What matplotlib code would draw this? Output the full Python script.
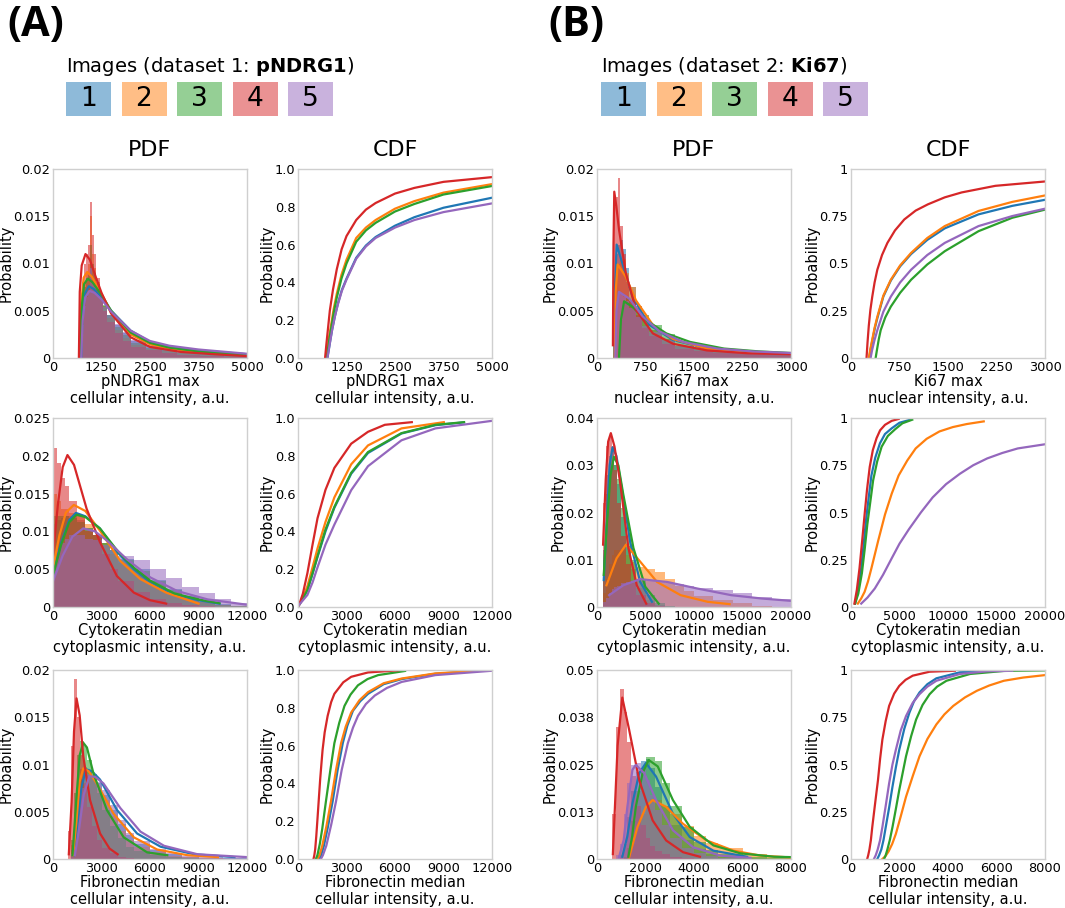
import matplotlib
matplotlib.use("Agg")
import matplotlib.pyplot as plt
from matplotlib.patches import Rectangle

# image colours, order: image 1..5
colors = ['#1f77b4', '#ff7f0e', '#2ca02c', '#d62728', '#9467bd']
image_ids = ['1', '2', '3', '4', '5']

# ---------------- dataset 1 (pNDRG1) ----------------
# row 1: pNDRG1 max cellular intensity
a1_edges = [650, 700, 750, 800, 850, 900, 950, 1000, 1050, 1100, 1200, 1300, 1400,
            1600, 1800, 2000, 2400, 2800, 3200, 3800, 4400, 5000]
a1_hist = [
    [0, 0.0005, 0.004, 0.006, 0.007, 0.0075, 0.010, 0.0085, 0.008, 0.0072, 0.0064, 0.0055, 0.0046, 0.0035, 0.0026, 0.0018, 0.0013, 0.0009, 0.0006, 0.0004, 0.0003],
    [0, 0.002, 0.006, 0.008, 0.009, 0.010, 0.015, 0.011, 0.0095, 0.008, 0.0068, 0.0055, 0.0042, 0.003, 0.0021, 0.0014, 0.001, 0.0007, 0.0005, 0.0003, 0.0002],
    [0, 0.001, 0.005, 0.0075, 0.0085, 0.009, 0.012, 0.010, 0.009, 0.0078, 0.0068, 0.0056, 0.0045, 0.0033, 0.0024, 0.0016, 0.0011, 0.0008, 0.0005, 0.0004, 0.0002],
    [0, 0.004, 0.008, 0.010, 0.011, 0.012, 0.0165, 0.013, 0.011, 0.0085, 0.0065, 0.005, 0.0038, 0.0026, 0.0018, 0.0012, 0.0008, 0.0005, 0.0003, 0.0002, 0.0001],
    [0, 0.0005, 0.0035, 0.0055, 0.0065, 0.007, 0.0095, 0.008, 0.0075, 0.0068, 0.0062, 0.0054, 0.0046, 0.0036, 0.0027, 0.0019, 0.0014, 0.001, 0.0007, 0.0005, 0.0003],
]
a1_pdf_x = [
    [726, 760, 820, 923, 1050, 1250, 1500, 2000, 2500, 3000, 3750, 5000],
    [684, 720, 790, 880, 1000, 1250, 1500, 2000, 2500, 3000, 3750, 5000],
    [692, 730, 800, 897, 1020, 1250, 1500, 2000, 2500, 3000, 3750, 5000],
    [667, 690, 740, 838, 950, 1100, 1250, 1500, 2000, 2500, 3300, 4150, 5000],
    [726, 765, 830, 940, 1070, 1250, 1500, 2000, 2500, 3000, 3750, 5000],
]
a1_pdf_y = [
    [0, 0.0045, 0.0068, 0.0076, 0.0073, 0.0064, 0.0050, 0.0029, 0.0017, 0.0012, 0.0008, 0.0004],
    [0, 0.0055, 0.0085, 0.0091, 0.0086, 0.0068, 0.0048, 0.0025, 0.00145, 0.001, 0.0006, 0.0003],
    [0, 0.005, 0.0078, 0.0084, 0.0080, 0.0067, 0.0050, 0.0027, 0.0016, 0.0011, 0.0007, 0.0003],
    [0, 0.007, 0.0098, 0.0110, 0.0104, 0.0086, 0.0069, 0.0047, 0.0022, 0.00117, 0.00064, 0.0004, 0.0002],
    [0, 0.004, 0.0064, 0.0071, 0.0069, 0.0062, 0.0049, 0.0029, 0.0018, 0.0013, 0.0009, 0.00045],
]
a1_cdf_x = [
    [758, 790, 830, 880, 950, 1030, 1130, 1250, 1500, 1750, 2000, 2500, 3000, 3750, 5000],
    [724, 760, 800, 850, 920, 1000, 1120, 1250, 1500, 1750, 2000, 2500, 3000, 3750, 5000],
    [741, 775, 815, 865, 930, 1000, 1120, 1250, 1500, 1750, 2000, 2500, 3000, 3750, 5000],
    [698, 730, 770, 820, 900, 1000, 1124, 1250, 1500, 1750, 2000, 2500, 3000, 3750, 5000],
    [758, 790, 830, 880, 950, 1030, 1130, 1250, 1500, 1750, 2000, 2500, 3000, 3750, 5000],
]
a1_cdf_y = [
    [0, 0.04, 0.09, 0.15, 0.22, 0.29, 0.36, 0.42, 0.53, 0.595, 0.64, 0.70, 0.745, 0.795, 0.848],
    [0, 0.05, 0.11, 0.17, 0.26, 0.34, 0.44, 0.52, 0.635, 0.69, 0.73, 0.79, 0.83, 0.875, 0.92],
    [0, 0.05, 0.11, 0.17, 0.25, 0.32, 0.42, 0.50, 0.615, 0.675, 0.715, 0.775, 0.815, 0.865, 0.91],
    [0, 0.07, 0.15, 0.25, 0.36, 0.47, 0.575, 0.645, 0.73, 0.785, 0.82, 0.87, 0.90, 0.932, 0.957],
    [0, 0.04, 0.09, 0.15, 0.22, 0.285, 0.355, 0.415, 0.525, 0.59, 0.635, 0.69, 0.73, 0.772, 0.818],
]

# row 2: Cytokeratin median cytoplasmic intensity
a2_edges = [0, 250, 500, 750, 1000, 1500, 2000, 2500, 3000, 3500, 4000, 5000, 6000,
            7000, 8000, 9000, 10000, 11000, 12000]
a2_hist = [
    [0.011, 0.0115, 0.0118, 0.012, 0.012, 0.0115, 0.0105, 0.0095, 0.0085, 0.0075, 0.0064, 0.005, 0.0036, 0.0024, 0.0015, 0.0008, 0.0004, 0.0001],
    [0.015, 0.014, 0.013, 0.013, 0.0125, 0.012, 0.011, 0.0095, 0.0085, 0.007, 0.0058, 0.0042, 0.003, 0.002, 0.0012, 0.0006, 0.0003, 0.0001],
    [0.012, 0.012, 0.012, 0.012, 0.0118, 0.0112, 0.0105, 0.0095, 0.0085, 0.0075, 0.0062, 0.0048, 0.0034, 0.0022, 0.0013, 0.0007, 0.0003, 0.0001],
    [0.021, 0.019, 0.017, 0.016, 0.014, 0.012, 0.010, 0.0095, 0.007, 0.005, 0.0035, 0.002, 0.001, 0.0005, 0.0002, 0.0001, 0, 0],
    [0.006, 0.0075, 0.0085, 0.009, 0.0095, 0.0095, 0.009, 0.0088, 0.0082, 0.0075, 0.0068, 0.0062, 0.005, 0.0038, 0.0027, 0.0018, 0.001, 0.0005],
]
a2_pdf_x = [
    [0, 500, 1000, 1414, 2000, 2900, 4000, 5000, 6000, 7500, 9000, 10300],
    [0, 400, 800, 1290, 2000, 2900, 4160, 5400, 7000, 9000],
    [0, 500, 1000, 1456, 2000, 2900, 4000, 5000, 6000, 7500, 9000, 10300],
    [0, 300, 600, 894, 1300, 2080, 2900, 3950, 5000, 6000, 7000],
    [0, 600, 1200, 1872, 2600, 3330, 4580, 6030, 7700, 9570, 12000],
]
a2_pdf_y = [
    [0.0043, 0.0085, 0.0115, 0.01245, 0.0120, 0.0104, 0.0072, 0.0050, 0.0033, 0.0017, 0.0009, 0.00045],
    [0.0052, 0.0095, 0.0125, 0.0135, 0.0127, 0.0101, 0.0061, 0.0037, 0.0019, 0.00045],
    [0.0042, 0.0082, 0.0112, 0.0122, 0.0119, 0.0104, 0.0074, 0.0052, 0.0035, 0.0018, 0.001, 0.0005],
    [0.0069, 0.0135, 0.0185, 0.0201, 0.0188, 0.0130, 0.0086, 0.0041, 0.0019, 0.0009, 0.00045],
    [0.0034, 0.0068, 0.0093, 0.0104, 0.0100, 0.0088, 0.0063, 0.0039, 0.0021, 0.0010, 0.0003],
]
a2_cdf_x = [
    [60, 300, 583, 900, 1208, 1700, 2250, 3290, 4330, 6400, 8500, 10270],
    [60, 300, 583, 900, 1208, 1700, 2250, 3290, 4330, 6400, 9020],
    [60, 300, 583, 900, 1208, 1700, 2250, 3290, 4330, 6400, 8500, 10270],
    [60, 300, 583, 900, 1208, 1700, 2250, 3290, 4330, 5370, 7040],
    [60, 300, 583, 900, 1208, 1700, 2250, 3290, 4330, 6400, 8500, 12000],
]
a2_cdf_y = [
    [0.01, 0.045, 0.09, 0.175, 0.265, 0.40, 0.525, 0.705, 0.815, 0.918, 0.962, 0.977],
    [0.01, 0.05, 0.11, 0.21, 0.31, 0.45, 0.58, 0.755, 0.855, 0.945, 0.978],
    [0.01, 0.045, 0.09, 0.18, 0.27, 0.41, 0.53, 0.71, 0.82, 0.92, 0.964, 0.978],
    [0.01, 0.07, 0.18, 0.33, 0.47, 0.62, 0.736, 0.864, 0.927, 0.964, 0.978],
    [0.01, 0.035, 0.064, 0.13, 0.21, 0.33, 0.436, 0.618, 0.745, 0.882, 0.945, 0.985],
]

# row 3: Fibronectin median cellular intensity
a3_edges = [900, 1100, 1300, 1500, 1700, 1900, 2100, 2400, 2700, 3000, 3500, 4000,
            4500, 5000, 6000, 7000, 8000, 9000, 10500, 12000]
a3_hist = [
    [0, 0.001, 0.0035, 0.0065, 0.0085, 0.0094, 0.0094, 0.009, 0.008, 0.0068, 0.0052, 0.0037, 0.0025, 0.0016, 0.0009, 0.0005, 0.0002, 0.0001, 0.0001],
    [0, 0.0015, 0.005, 0.008, 0.0095, 0.0097, 0.0093, 0.0085, 0.0074, 0.0062, 0.0045, 0.003, 0.002, 0.0013, 0.0007, 0.0003, 0.0002, 0.0001, 0],
    [0, 0.002, 0.007, 0.011, 0.0125, 0.012, 0.0105, 0.0088, 0.007, 0.0052, 0.0035, 0.0022, 0.0013, 0.0008, 0.0004, 0.0002, 0.0001, 0, 0],
    [0.003, 0.012, 0.019, 0.015, 0.011, 0.008, 0.0055, 0.0035, 0.002, 0.0012, 0.0006, 0.0002, 0.0001, 0, 0, 0, 0, 0, 0],
    [0, 0.0005, 0.002, 0.005, 0.0075, 0.0088, 0.009, 0.0088, 0.0082, 0.0073, 0.0057, 0.0041, 0.0028, 0.0019, 0.0011, 0.0006, 0.0003, 0.0002, 0.0001],
]
a3_pdf_x = [
    [1290, 1500, 1750, 2038, 2400, 2912, 3952, 5200, 6656, 8736, 11230],
    [1248, 1450, 1650, 1872, 2200, 2704, 3744, 4992, 6448, 8320, 10200],
    [1206, 1450, 1650, 1872, 2100, 2496, 3328, 4368, 5824, 7070],
    [978, 1150, 1300, 1456, 1650, 1872, 2288, 2912, 3500, 4000],
    [1352, 1600, 1900, 2246, 2600, 3120, 4160, 5408, 6864, 8944, 12000],
]
a3_pdf_y = [
    [0.0004, 0.0035, 0.0075, 0.0095, 0.0093, 0.0084, 0.0052, 0.0027, 0.0013, 0.0005, 0.0002],
    [0.0004, 0.004, 0.0082, 0.0096, 0.0093, 0.0080, 0.0048, 0.0023, 0.001, 0.0004, 0.0002],
    [0.0004, 0.0065, 0.011, 0.0123, 0.0118, 0.0091, 0.0052, 0.0023, 0.0007, 0.0004],
    [0.0005, 0.006, 0.0135, 0.017, 0.0152, 0.0109, 0.00625, 0.0027, 0.0011, 0.0005],
    [0.0004, 0.003, 0.0068, 0.00875, 0.0087, 0.0080, 0.0054, 0.0029, 0.0014, 0.0005, 0.0002],
]
a3_cdf_x = [
    [1312, 1430, 1600, 1850, 2145, 2450, 2770, 3050, 3395, 3850, 4333, 5300, 6416, 8500, 11000],
    [1208, 1330, 1500, 1750, 2041, 2350, 2666, 2950, 3291, 3800, 4333, 5300, 6416, 8500, 11000],
    [1104, 1200, 1350, 1500, 1729, 2000, 2250, 2550, 2875, 3250, 3708, 4300, 4958, 6624],
    [958, 1010, 1062, 1130, 1208, 1290, 1370, 1450, 1520, 1650, 1833, 2050, 2250, 2800, 3290, 4330, 6200],
    [1416, 1540, 1750, 2050, 2354, 2700, 3083, 3400, 3708, 4200, 4750, 5500, 6416, 8500, 12000],
]
a3_cdf_y = [
    [0, 0.02, 0.07, 0.17, 0.306, 0.47, 0.613, 0.705, 0.784, 0.835, 0.874, 0.925, 0.952, 0.98, 0.994],
    [0, 0.02, 0.07, 0.17, 0.306, 0.47, 0.613, 0.70, 0.775, 0.84, 0.883, 0.93, 0.955, 0.982, 0.995],
    [0, 0.02, 0.08, 0.16, 0.306, 0.47, 0.613, 0.72, 0.81, 0.87, 0.919, 0.952, 0.973, 0.995],
    [0, 0.02, 0.05, 0.12, 0.216, 0.32, 0.42, 0.505, 0.577, 0.67, 0.757, 0.83, 0.874, 0.935, 0.964, 0.987, 0.998],
    [0, 0.02, 0.07, 0.18, 0.306, 0.47, 0.613, 0.695, 0.757, 0.82, 0.865, 0.905, 0.937, 0.973, 0.996],
]

# ---------------- dataset 2 (Ki67) ----------------
# row 1: Ki67 max nuclear intensity
b1_edges = [240, 270, 300, 330, 360, 400, 450, 500, 600, 700, 800, 1000, 1200, 1500,
            1800, 2200, 2600, 3000]
b1_hist = [
    [0, 0.006, 0.011, 0.012, 0.0125, 0.0115, 0.0095, 0.0075, 0.0055, 0.004, 0.003, 0.002, 0.0013, 0.0009, 0.0006, 0.0005, 0.0004],
    [0, 0.004, 0.009, 0.010, 0.0105, 0.0105, 0.009, 0.0075, 0.0055, 0.004, 0.003, 0.002, 0.0013, 0.0009, 0.0006, 0.0005, 0.0004],
    [0, 0, 0, 0.001, 0.004, 0.006, 0.0063, 0.006, 0.0053, 0.0045, 0.0035, 0.0025, 0.0017, 0.0012, 0.0008, 0.0006, 0.0005],
    [0.01, 0.016, 0.017, 0.019, 0.014, 0.011, 0.008, 0.006, 0.0045, 0.0032, 0.0023, 0.0015, 0.001, 0.0007, 0.0005, 0.0004, 0.0003],
    [0, 0.003, 0.006, 0.0068, 0.0068, 0.0065, 0.006, 0.0053, 0.0043, 0.0034, 0.0027, 0.0019, 0.0013, 0.0009, 0.0007, 0.0005, 0.0004],
]
b1_pdf_x = [
    [267, 280, 304, 393, 550, 811, 1178, 1702, 2330, 3000],
    [272, 288, 319, 445, 602, 864, 1178, 1702, 2330, 3000],
    [340, 370, 419, 550, 759, 1073, 1440, 1964, 2500, 3000],
    [246, 255, 267, 300, 340, 445, 602, 864, 1178, 1702, 2330, 3000],
    [283, 300, 340, 497, 707, 969, 1335, 1859, 2400, 3000],
]
b1_pdf_y = [
    [0, 0.008, 0.012, 0.010, 0.0065, 0.0035, 0.0019, 0.001, 0.00064, 0.00043],
    [0, 0.007, 0.0099, 0.0086, 0.0061, 0.0035, 0.002, 0.001, 0.0006, 0.00046],
    [0, 0.004, 0.006, 0.0054, 0.004, 0.0026, 0.0017, 0.001, 0.0007, 0.00053],
    [0.00135, 0.012, 0.0176, 0.0160, 0.0136, 0.009, 0.0051, 0.0026, 0.0015, 0.0008, 0.0005, 0.0004],
    [0, 0.005, 0.007, 0.0063, 0.0044, 0.0028, 0.0017, 0.001, 0.0007, 0.00053],
]
b1_cdf_x = [
    [282, 300, 335, 370, 407, 500, 616, 760, 929, 1180, 1450, 1972, 2494, 3000],
    [276, 295, 330, 365, 407, 500, 616, 760, 929, 1180, 1450, 1972, 2494, 3000],
    [381, 400, 430, 459, 530, 616, 760, 929, 1180, 1450, 1972, 2494, 3000],
    [240, 255, 275, 300, 329, 365, 407, 480, 563, 680, 824, 1000, 1189, 1450, 1711, 2233, 3000],
    [303, 325, 360, 407, 500, 616, 760, 929, 1180, 1450, 1972, 2494, 3000],
]
b1_cdf_y = [
    [0, 0.04, 0.1, 0.16, 0.21, 0.325, 0.41, 0.485, 0.55, 0.625, 0.686, 0.76, 0.805, 0.837],
    [0, 0.04, 0.1, 0.16, 0.218, 0.33, 0.414, 0.49, 0.556, 0.635, 0.698, 0.778, 0.826, 0.86],
    [0, 0.04, 0.1, 0.147, 0.215, 0.272, 0.345, 0.414, 0.495, 0.565, 0.671, 0.742, 0.785],
    [0, 0.08, 0.17, 0.255, 0.325, 0.40, 0.467, 0.545, 0.609, 0.675, 0.733, 0.78, 0.813, 0.85, 0.876, 0.911, 0.934],
    [0, 0.04, 0.09, 0.147, 0.245, 0.325, 0.4, 0.467, 0.545, 0.609, 0.698, 0.751, 0.79],
]

# row 2: Cytokeratin median cytoplasmic intensity
b2_edges = [600, 900, 1200, 1500, 1800, 2100, 2500, 3000, 3500, 4000, 5000, 6000,
            7000, 8000, 9000, 10000, 12000, 14000, 16000, 18000, 20000]
b2_hist = [
    [0.012, 0.028, 0.032, 0.033, 0.03, 0.026, 0.019, 0.013, 0.008, 0.004, 0.0015, 0.0004, 0, 0, 0, 0, 0, 0, 0, 0],
    [0.003, 0.006, 0.009, 0.011, 0.012, 0.012, 0.012, 0.011, 0.0095, 0.0085, 0.008, 0.0075, 0.006, 0.0045, 0.0033, 0.0024, 0.0015, 0.0008, 0.0003, 0.0001],
    [0.01, 0.024, 0.029, 0.031, 0.03, 0.027, 0.021, 0.015, 0.010, 0.006, 0.0025, 0.0008, 0.0002, 0, 0, 0, 0, 0, 0, 0],
    [0.022, 0.034, 0.036, 0.034, 0.029, 0.022, 0.015, 0.009, 0.005, 0.0025, 0.0008, 0.0002, 0, 0, 0, 0, 0, 0, 0, 0],
    [0.001, 0.002, 0.003, 0.0038, 0.0042, 0.0045, 0.005, 0.0052, 0.0054, 0.0055, 0.0055, 0.0053, 0.0051, 0.0048, 0.0045, 0.0041, 0.0036, 0.0029, 0.0022, 0.0017],
]
b2_pdf_x = [
    [695, 1000, 1300, 1600, 2000, 2539, 3408, 4452, 5669],
    [974, 2017, 2991, 4452, 6191, 8626, 11408, 13669],
    [695, 1000, 1400, 1739, 2200, 2713, 3756, 4973, 6365],
    [626, 900, 1150, 1426, 1800, 2365, 3234, 4104, 5078],
    [1252, 2713, 4452, 7234, 10364, 13843, 16973, 20000],
]
b2_pdf_y = [
    [0.0057, 0.018, 0.030, 0.0338, 0.032, 0.0253, 0.0139, 0.0053, 0.0011],
    [0.0046, 0.0103, 0.0132, 0.0096, 0.0053, 0.0025, 0.0011, 0.0006],
    [0.0068, 0.017, 0.028, 0.0318, 0.030, 0.0238, 0.0125, 0.0043, 0.0007],
    [0.0132, 0.027, 0.035, 0.0368, 0.034, 0.0267, 0.0125, 0.0046, 0.0007],
    [0.0025, 0.0046, 0.0059, 0.0053, 0.0039, 0.0025, 0.0018, 0.0013],
]
b2_cdf_x = [
    [421, 700, 1053, 1300, 1579, 1850, 2105, 2500, 2983, 3500, 4211, 5000, 6141],
    [702, 1050, 1400, 1750, 2105, 2800, 3509, 4200, 4912, 5800, 6667, 7800, 9123, 10500, 11930, 13684],
    [421, 750, 1123, 1400, 1684, 2000, 2281, 2700, 3158, 3800, 4561, 5300, 6316],
    [351, 600, 877, 1150, 1404, 1650, 1930, 2250, 2632, 3000, 3509, 4200, 4912],
    [1053, 1700, 2456, 3300, 4211, 5000, 5965, 7200, 8421, 9800, 11228, 12600, 14035, 15600, 17193, 20000],
]
b2_cdf_y = [
    [0.018, 0.08, 0.205, 0.33, 0.473, 0.59, 0.696, 0.79, 0.866, 0.915, 0.946, 0.975, 0.991],
    [0.018, 0.045, 0.08, 0.135, 0.205, 0.35, 0.49, 0.60, 0.696, 0.775, 0.839, 0.89, 0.929, 0.952, 0.968, 0.982],
    [0.018, 0.07, 0.179, 0.30, 0.4375, 0.56, 0.67, 0.77, 0.848, 0.905, 0.941, 0.972, 0.991],
    [0.018, 0.09, 0.205, 0.35, 0.49, 0.62, 0.741, 0.83, 0.893, 0.935, 0.964, 0.985, 0.995],
    [0.018, 0.05, 0.098, 0.17, 0.259, 0.335, 0.411, 0.50, 0.58, 0.65, 0.705, 0.75, 0.786, 0.815, 0.839, 0.861],
]

# row 3: Fibronectin median cellular intensity
b3_edges = [600, 800, 950, 1100, 1250, 1400, 1600, 1800, 2000, 2200, 2400, 2700, 3000,
            3500, 4000, 4500, 5000, 6000, 7000, 8000]
b3_hist = [
    [0, 0, 0.001, 0.004, 0.011, 0.018, 0.023, 0.026, 0.0265, 0.024, 0.019, 0.014, 0.009, 0.005, 0.0027, 0.0013, 0.0006, 0.0002, 0],
    [0, 0, 0, 0, 0.001, 0.004, 0.008, 0.012, 0.015, 0.016, 0.0155, 0.014, 0.012, 0.0088, 0.0062, 0.0042, 0.0028, 0.0014, 0.0005],
    [0, 0, 0, 0.0005, 0.003, 0.01, 0.018, 0.024, 0.027, 0.027, 0.026, 0.02, 0.014, 0.0085, 0.0045, 0.0025, 0.0012, 0.0005, 0.0002],
    [0.012, 0.035, 0.045, 0.039, 0.031, 0.022, 0.014, 0.009, 0.0055, 0.0035, 0.002, 0.0012, 0.0005, 0.0002, 0, 0, 0, 0, 0],
    [0, 0.001, 0.004, 0.012, 0.02, 0.025, 0.0255, 0.024, 0.021, 0.017, 0.013, 0.009, 0.0055, 0.003, 0.0015, 0.0008, 0.0003, 0.0001, 0],
]
b3_pdf_x = [
    [1043, 1250, 1461, 1739, 2017, 2435, 3130, 3826, 4800, 6191],
    [1322, 1670, 2017, 2296, 2852, 3548, 4522, 5635, 6748, 8000],
    [1294, 1450, 1600, 1878, 2129, 2504, 3130, 3826, 4800, 5913, 7304, 8000],
    [654, 850, 1043, 1322, 1739, 2296, 2852, 3548, 4243],
    [904, 1100, 1252, 1461, 1600, 1948, 2435, 3130, 3965, 5078, 6330],
]
b3_pdf_y = [
    [0.0006, 0.006, 0.0147, 0.0227, 0.0254, 0.0218, 0.012, 0.0058, 0.0022, 0.0006],
    [0.0004, 0.0085, 0.0138, 0.0156, 0.0138, 0.0093, 0.0049, 0.0022, 0.0009, 0.0004],
    [0.0006, 0.006, 0.0138, 0.0227, 0.0262, 0.0245, 0.0156, 0.0085, 0.0036, 0.0015, 0.0006, 0.0005],
    [0.0013, 0.030, 0.0427, 0.0343, 0.0209, 0.0102, 0.0049, 0.0018, 0.0006],
    [0.0004, 0.005, 0.0138, 0.0236, 0.0249, 0.0227, 0.0156, 0.0076, 0.0031, 0.0009, 0.0003],
]
b3_cdf_x = [
    [1085, 1160, 1250, 1340, 1433, 1570, 1711, 1850, 1990, 2200, 2407, 2600, 2824, 3150, 3520, 4494, 5746, 6581],
    [1294, 1420, 1550, 1700, 1850, 2050, 2268, 2550, 2824, 3150, 3520, 3850, 4216, 4700, 5190, 5700, 6303, 7100, 8000],
    [1363, 1430, 1500, 1600, 1711, 1850, 1990, 2130, 2268, 2480, 2685, 2950, 3242, 3550, 3937, 4911, 6303, 8000],
    [668, 710, 760, 820, 877, 1000, 1113, 1200, 1294, 1430, 1572, 1780, 1990, 2250, 2546, 3242, 4285],
    [946, 1020, 1100, 1200, 1294, 1430, 1572, 1710, 1850, 2050, 2268, 2540, 2824, 3150, 3520, 4494, 5607, 6650],
]
b3_cdf_y = [
    [0, 0.02, 0.05, 0.1, 0.169, 0.27, 0.383, 0.485, 0.578, 0.69, 0.774, 0.835, 0.881, 0.925, 0.956, 0.988, 0.996, 0.997],
    [0, 0.015, 0.04, 0.08, 0.133, 0.225, 0.329, 0.44, 0.543, 0.635, 0.712, 0.765, 0.81, 0.855, 0.89, 0.918, 0.943, 0.96, 0.973],
    [0, 0.02, 0.05, 0.1, 0.169, 0.265, 0.365, 0.455, 0.543, 0.65, 0.738, 0.815, 0.872, 0.912, 0.943, 0.979, 0.995, 0.998],
    [0, 0.02, 0.05, 0.1, 0.169, 0.3, 0.418, 0.53, 0.632, 0.73, 0.81, 0.875, 0.916, 0.948, 0.97, 0.991, 0.996],
    [0, 0.02, 0.05, 0.1, 0.169, 0.28, 0.40, 0.5, 0.578, 0.68, 0.756, 0.825, 0.872, 0.912, 0.943, 0.979, 0.993, 0.996],
]

# axis ticks and labels
a1_xticks = [0, 1250, 2500, 3750, 5000]
a23_xticks = [0, 3000, 6000, 9000, 12000]
b1_xticks = [0, 750, 1500, 2250, 3000]
b2_xticks = [0, 5000, 10000, 15000, 20000]
b3_xticks = [0, 2000, 4000, 6000, 8000]

a1_pdf_yticks = ['0', '0.005', '0.01', '0.015', '0.02']
a2_pdf_yticks = ['0', '0.005', '0.01', '0.015', '0.02', '0.025']
a3_pdf_yticks = ['0', '0.005', '0.01', '0.015', '0.02']
b1_pdf_yticks = ['0', '0.005', '0.01', '0.015', '0.02']
b2_pdf_yticks = ['0', '0.01', '0.02', '0.03', '0.04']
b3_pdf_yticks = ['0', '0.013', '0.025', '0.038', '0.05']
a_cdf_yticks = ['0.0', '0.2', '0.4', '0.6', '0.8', '1.0']
b_cdf_yticks = ['0', '0.25', '0.5', '0.75', '1']

xlabels_a = ['pNDRG1 max\ncellular intensity, a.u.',
             'Cytokeratin median\ncytoplasmic intensity, a.u.',
             'Fibronectin median\ncellular intensity, a.u.']
xlabels_b = ['Ki67 max\nnuclear intensity, a.u.',
             'Cytokeratin median\ncytoplasmic intensity, a.u.',
             'Fibronectin median\ncellular intensity, a.u.']

# ---------------- figure ----------------
W, H = 1065, 908
fig = plt.figure(figsize=(W / 100, H / 100), dpi=100)


def px_axes(left, top, w, h):
    return fig.add_axes([left / W, 1 - (top + h) / H, w / W, h / H])


def style(ax, xticks, ylabels, xlabel):
    xmax = xticks[-1]
    ymax = float(ylabels[-1])
    ax.set_xlim(0, xmax)
    ax.set_ylim(0, ymax)
    ax.set_xticks(xticks)
    ax.set_xticklabels([str(t) for t in xticks])
    yt = [ymax * i / (len(ylabels) - 1) for i in range(len(ylabels))]
    ax.set_yticks(yt)
    ax.set_yticklabels(ylabels)
    ax.tick_params(axis='x', length=0, labelsize=9.3, pad=2.5)
    ax.tick_params(axis='y', length=0, labelsize=9.3, pad=2.0)
    for s in ax.spines.values():
        s.set_color('#cfcfcf')
        s.set_linewidth(1.0)
    ax.set_ylabel('Probability', fontsize=10.5, labelpad=0)
    ax.set_xlabel(xlabel, fontsize=10.5, labelpad=-0.5, linespacing=1.15)


def pdf_panel(ax, edges, hists, xs, ys, xticks, ylabels, xlabel):
    for h, c in zip(hists, colors):
        ax.stairs(h, edges, fill=True, color=c, alpha=0.55, lw=0)
    for x, y, c in zip(xs, ys, colors):
        ax.plot(x, y, color=c, lw=1.6)
    style(ax, xticks, ylabels, xlabel)


def cdf_panel(ax, xs, ys, xticks, ylabels, xlabel):
    for x, y, c in zip(xs, ys, colors):
        ax.plot(x, y, color=c, lw=1.6)
    style(ax, xticks, ylabels, xlabel)


col_left = [53, 298, 597, 851]
row_top = [169, 418, 670]
aw, ah = 194, 189

rows_a = [
    (a1_edges, a1_hist, a1_pdf_x, a1_pdf_y, a1_cdf_x, a1_cdf_y, a1_xticks, a1_pdf_yticks),
    (a2_edges, a2_hist, a2_pdf_x, a2_pdf_y, a2_cdf_x, a2_cdf_y, a23_xticks, a2_pdf_yticks),
    (a3_edges, a3_hist, a3_pdf_x, a3_pdf_y, a3_cdf_x, a3_cdf_y, a23_xticks, a3_pdf_yticks),
]
rows_b = [
    (b1_edges, b1_hist, b1_pdf_x, b1_pdf_y, b1_cdf_x, b1_cdf_y, b1_xticks, b1_pdf_yticks),
    (b2_edges, b2_hist, b2_pdf_x, b2_pdf_y, b2_cdf_x, b2_cdf_y, b2_xticks, b2_pdf_yticks),
    (b3_edges, b3_hist, b3_pdf_x, b3_pdf_y, b3_cdf_x, b3_cdf_y, b3_xticks, b3_pdf_yticks),
]

for block, rows, xlabels, cdf_yt in [(0, rows_a, xlabels_a, a_cdf_yticks),
                                      (1, rows_b, xlabels_b, b_cdf_yticks)]:
    for r, (edges, hists, px, py, cx, cy, xt, pyt) in enumerate(rows):
        ax_p = px_axes(col_left[2 * block], row_top[r], aw, ah)
        pdf_panel(ax_p, edges, hists, px, py, xt, pyt, xlabels[r])
        ax_c = px_axes(col_left[2 * block + 1], row_top[r], aw, ah)
        cdf_panel(ax_c, cx, cy, xt, cdf_yt, xlabels[r])
        if r == 0:
            ax_p.set_title('PDF', fontsize=16, pad=9)
            ax_c.set_title('CDF', fontsize=16, pad=9)

# ---------------- headers ----------------
headers = ['(A)', '(B)']
header_x = [7, 548]
legend_titles = ['Images (dataset 1: $\\bf{pNDRG1}$)', 'Images (dataset 2: $\\bf{Ki67}$)']
legend_x = [66, 601]

for i in range(2):
    fig.text(header_x[i] / W, 1 - 25 / H, headers[i], fontsize=30, fontweight='bold',
             family=['Open Sans', 'DejaVu Sans'], va='center', ha='left')
    fig.text(legend_x[i] / W, 1 - 72 / H, legend_titles[i], fontsize=14,
             va='baseline', ha='left')
    for k, (lab, c) in enumerate(zip(image_ids, colors)):
        x0 = legend_x[i] + k * 55.5
        fig.add_artist(Rectangle((x0 / W, 1 - 116 / H), 45 / W, 34 / H,
                                 transform=fig.transFigure, facecolor=c,
                                 alpha=0.5, edgecolor='none'))
        fig.text((x0 + 22.5) / W, 1 - 99.5 / H, lab, fontsize=19,
                 ha='center', va='center')

fig.savefig('out.png', dpi=100)
